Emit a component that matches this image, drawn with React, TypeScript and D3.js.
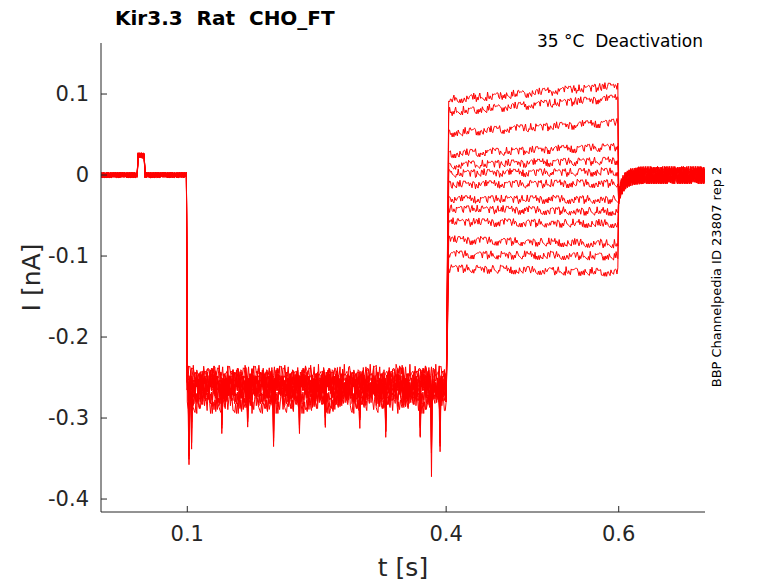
import React from 'react';
import * as d3 from 'd3';

// Steady levels (nA) of each sweep during the 0.4-0.6 s step, start and end
const stepStart = [0.093, 0.078, 0.052, 0.026, 0.012, 0.002, -0.012, -0.03, -0.042, -0.058, -0.08, -0.098, -0.115];
const stepEnd = [0.11, 0.095, 0.065, 0.035, 0.018, 0.004, -0.01, -0.03, -0.045, -0.06, -0.085, -0.1, -0.12];
// Level during 0.1-0.4 s for each sweep
const holdLevel = [-0.255, -0.26, -0.25, -0.265, -0.27, -0.258, -0.262, -0.248, -0.275, -0.26, -0.252, -0.268, -0.28];
// Hand-read noise pattern (nA)
const noise = [0.004, -0.006, 0.008, -0.002, 0.01, -0.009, 0.003, -0.012, 0.006, 0.0, -0.005, 0.011, -0.007, 0.002,
  -0.01, 0.007, -0.003, 0.009, -0.011, 0.005, -0.001, 0.008, -0.008, 0.012, -0.004, 0.001, -0.009, 0.006, 0.003, -0.006, 0.01, -0.002, 0.004, -0.012, 0.007, 0.002, -0.004];
// Downward spikes in the hold segment: [time, depth]
const spikes = [[0.102, -0.1], [0.105, -0.07], [0.14, -0.06], [0.17, -0.05], [0.2, -0.08], [0.23, -0.06], [0.26, -0.07], [0.3, -0.05], [0.33, -0.06], [0.37, -0.07], [0.383, -0.11], [0.393, -0.08]];
const yTicks = [-0.4, -0.3, -0.2, -0.1, 0, 0.1];
const xTicks = [0.1, 0.4, 0.6];

const W = 778, H = 583;
const m = { l: 101, r: 705, t: 43, b: 512 };

function sweep(s: number): [number, number][] {
  const pts: [number, number][] = [];
  for (let i = 0; i <= 700; i++) {
    const t = i * 0.001;
    const n = noise[(i * 13 + Math.floor(i / 29) * 5 + Math.floor(i / 7) * 3 + s * 11) % noise.length];
    let v: number;
    if (t < 0.1) {
      v = n * 0.3 + (t > 0.042 && t < 0.051 ? 0.024 : 0);
    } else if (t < 0.4) {
      v = holdLevel[s] + n * 1.2;
      const sp = spikes.find(p => Math.abs(p[0] - t) < 0.0006 && (s + i) % 3 === 0);
      if (sp) v += sp[1] * 0.8;
    } else if (t < 0.6) {
      const f = (t - 0.4) / 0.2;
      v = stepStart[s] + (stepEnd[s] - stepStart[s]) * f + n * 0.45;
      if (t < 0.403) v = -0.28 + (stepStart[s] + 0.28) * ((t - 0.4) / 0.003);
    } else {
      v = -0.025 * Math.exp(-(t - 0.6) / 0.006) + n * 0.9;
    }
    pts.push([t, v]);
  }
  return pts;
}

export default function App() {
  const x = d3.scaleLinear().domain([0, 0.7]).range([m.l, m.r]);
  const y = d3.scaleLinear().domain([-0.416, 0.163]).range([m.b, m.t]);
  const line = d3.line<[number, number]>().x(d => x(d[0])).y(d => y(d[1]));
  const font = 'DejaVu Sans, sans-serif';
  return (
    <svg width={W} height={H} style={{ position: 'absolute', left: 0, top: 0, background: '#fff' }}>
      <defs><clipPath id="c"><rect x={m.l} y={m.t} width={m.r - m.l} height={m.b - m.t} /></clipPath></defs>
      <g clipPath="url(#c)">
        {stepStart.map((_, s) => (
          <path key={s} d={line(sweep(s)) || ''} fill="none" stroke="#ff0000" strokeWidth={1} />
        ))}
      </g>
      <line x1={m.l} x2={m.l} y1={m.t} y2={m.b} stroke="#262626" />
      <line x1={m.l} x2={m.r} y1={m.b} y2={m.b} stroke="#262626" />
      {yTicks.map(v => (
        <g key={v}>
          <line x1={m.l} x2={m.l + 6} y1={y(v)} y2={y(v)} stroke="#262626" />
          <text x={m.l - 12} y={y(v)} dy="0.35em" textAnchor="end" fontSize={21} fontFamily={font} fill="#262626">{v}</text>
        </g>
      ))}
      {xTicks.map(v => (
        <g key={v}>
          <line x1={x(v)} x2={x(v)} y1={m.b} y2={m.b - 6} stroke="#262626" />
          <text x={x(v)} y={m.b + 29} textAnchor="middle" fontSize={21} fontFamily={font} fill="#262626">{v}</text>
        </g>
      ))}
      <text x={403} y={576} textAnchor="middle" fontSize={25} fontFamily={font} fill="#262626">t [s]</text>
      <text transform={`translate(40,${(m.t + m.b) / 2}) rotate(-90)`} textAnchor="middle" fontSize={25} fontFamily={font} fill="#262626">I [nA]</text>
      <text x={115} y={25} fontSize={20} fontWeight="bold" fontFamily={font} fill="#000" style={{ whiteSpace: 'pre' }}>Kir3.3  Rat  CHO_FT</text>
      <text x={703} y={47} textAnchor="end" fontSize={17} fontFamily={font} fill="#000" style={{ whiteSpace: 'pre' }}>35 °C  Deactivation</text>
      <text transform="translate(721,277) rotate(-90)" textAnchor="middle" fontSize={13} fontFamily={font} fill="#000">BBP Channelpedia ID 23807 rep 2</text>
    </svg>
  );
}
